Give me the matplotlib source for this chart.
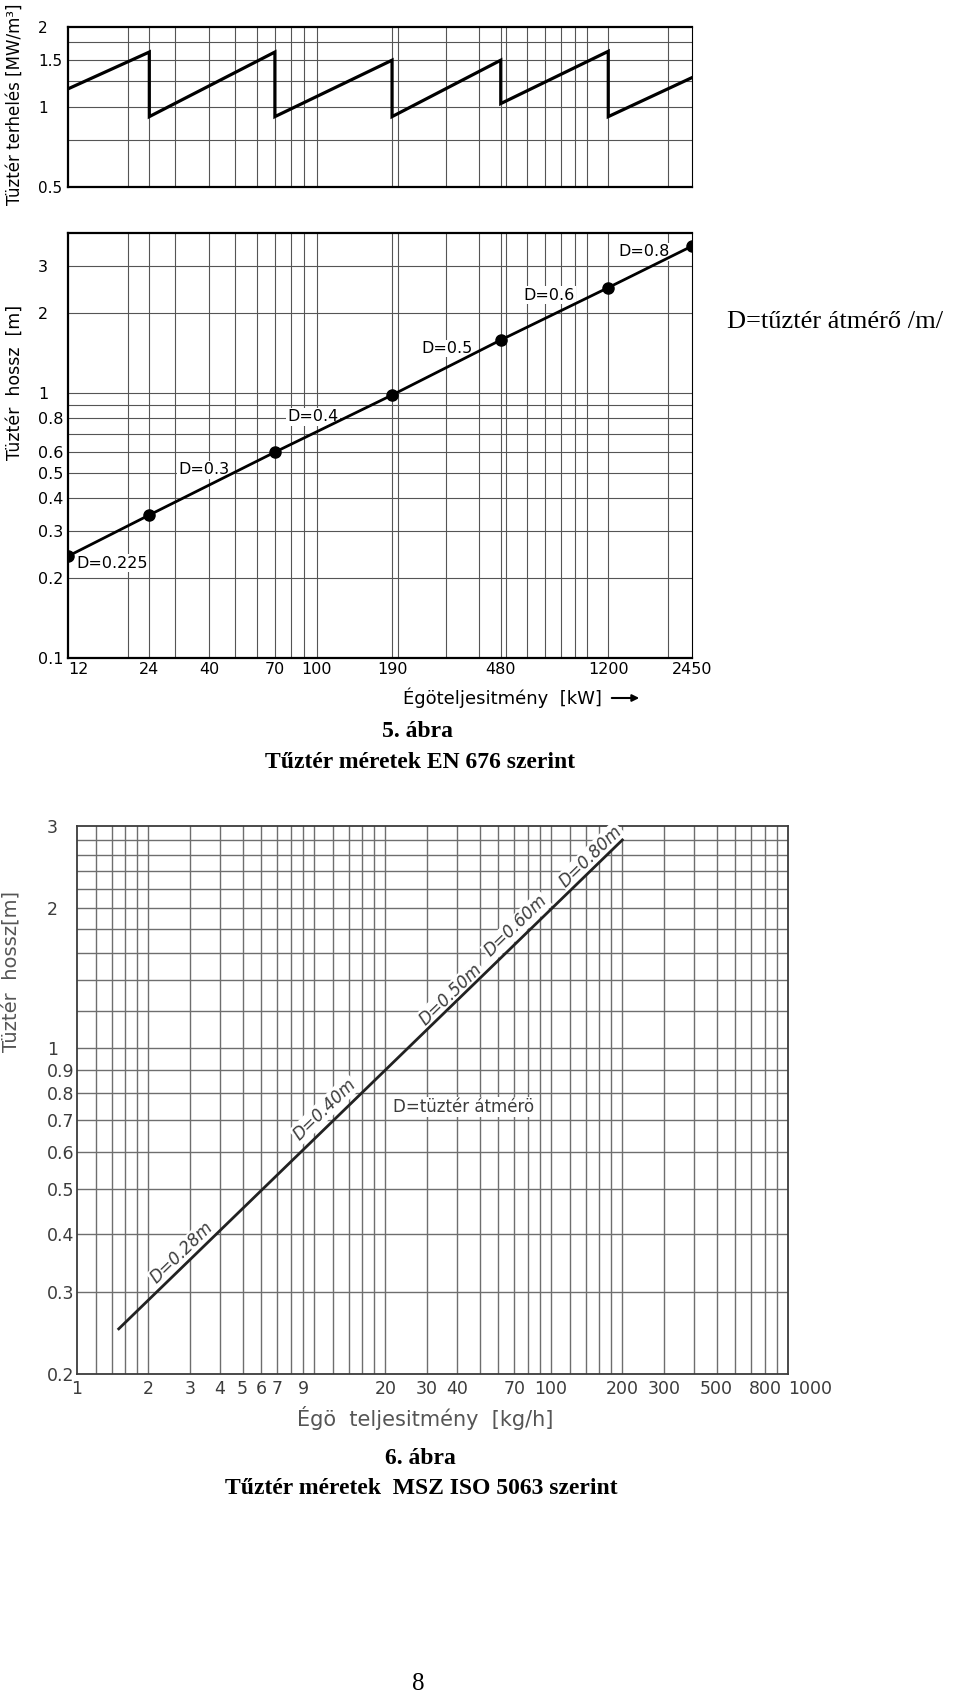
import math
import matplotlib
matplotlib.use('Agg')
import matplotlib.pyplot as plt
from matplotlib.ticker import FixedLocator, FixedFormatter, NullFormatter, NullLocator

# ---------------- data ----------------
# Figure 5 (EN 676)
kw_ticks = [12, 24, 40, 70, 100, 190, 480, 1200, 2450]
kw_tick_labels = ['12', '24', '40', '70', '100', '190', '480', '1200', '2450']
kw_grid = [20, 24, 30, 40, 50, 60, 70, 80, 90, 100, 190, 200, 300, 400, 480,
           500, 600, 700, 800, 900, 1000, 1200, 2000]

load_x = [12, 24, 24, 70, 70, 190, 190, 480, 480, 1200, 1200, 2450]
load_y = [1.17, 1.61, 0.92, 1.61, 0.92, 1.50, 0.92, 1.50, 1.03, 1.62, 0.92, 1.29]
load_yticks = [0.5, 1, 1.5, 2]
load_ytick_labels = ['0.5', '1', '1.5', '2']
load_ygrid = [0.75, 1, 1.25, 1.5, 1.75]

len_x = [12, 24, 70, 190, 480, 1200, 2450]
len_y = [0.242, 0.346, 0.597, 0.98, 1.58, 2.49, 3.57]
len_labels = ['D=0.225', 'D=0.3', 'D=0.4', 'D=0.5', 'D=0.6', 'D=0.8']
len_label_x = [12.85, 30.8, 77.6, 244, 580, 1313]
len_label_y = [0.228, 0.513, 0.813, 1.468, 2.335, 3.40]
len_yticks = [0.1, 0.2, 0.3, 0.4, 0.5, 0.6, 0.8, 1, 2, 3]
len_ytick_labels = ['0.1', '0.2', '0.3', '0.4', '0.5', '0.6', '0.8', '1', '2', '3']
len_ygrid = [0.2, 0.3, 0.4, 0.5, 0.6, 0.7, 0.8, 0.9, 1, 2, 3]

# Figure 6 (MSZ ISO 5063)
kgh_ticks = [1, 2, 3, 4, 5, 6, 7, 9, 20, 30, 40, 70, 100, 200, 300, 500, 800, 1000]
kgh_tick_labels = ['1', '2', '3', '4', '5', '6', '7', '9', '20', '30', '40', '70',
                   '100', '200', '300', '500', '800', '1000']
kgh_grid = [1.2, 1.4, 1.6, 1.8, 2, 3, 4, 5, 6, 7, 8, 9,
            10, 12, 14, 16, 18, 20, 30, 40, 50, 60, 70, 80, 90,
            100, 120, 140, 160, 180, 200, 300, 400, 500, 600, 700, 800, 900]
fuel_x = [1.5, 200]
fuel_y = [0.25, 2.8]
fuel_labels = ['D=0.28m', 'D=0.40m', 'D=0.50m', 'D=0.60m', 'D=0.80m']
fuel_label_x = [2.78, 11.1, 37.8, 71.3, 147]
fuel_label_y = [0.364, 0.74, 1.306, 1.83, 2.58]
fuel_yticks = [0.2, 0.3, 0.4, 0.5, 0.6, 0.7, 0.8, 0.9, 1, 2, 3]
fuel_ytick_labels = ['0.2', '0.3', '0.4', '0.5', '0.6', '0.7', '0.8', '0.9', '1', '2', '3']
fuel_ygrid = [0.3, 0.4, 0.5, 0.6, 0.7, 0.8, 0.9, 1, 1.2, 1.4, 1.6, 1.8,
              2, 2.2, 2.4, 2.6, 2.8]

# ---------------- layout ----------------
W, H = 960, 1695
PT = 100 / 72.0
fig = plt.figure(figsize=(W / 100, H / 100), dpi=100)
fig.patch.set_facecolor('white')

TECH = ['DejaVu Sans']
SANS = ['DejaVu Sans']
SERIF = ['Liberation Serif', 'DejaVu Serif']


def ax_at(l, t, r, b):
    return fig.add_axes([l / W, 1 - b / H, (r - l) / W, (b - t) / H])


def fy(y):
    return 1 - y / H


def style_axes(ax, xgrid, ygrid, gcolor, glw, spine_lw, ypad_px, ysize, tcolor):
    ax.set_xscale('log')
    ax.set_yscale('log')
    ax.xaxis.remove_overlapping_locs = False
    ax.yaxis.remove_overlapping_locs = False
    ax.xaxis.set_minor_locator(FixedLocator(xgrid))
    ax.yaxis.set_minor_locator(FixedLocator(ygrid))
    ax.xaxis.set_minor_formatter(NullFormatter())
    ax.yaxis.set_minor_formatter(NullFormatter())
    ax.grid(True, which='minor', color=gcolor, lw=glw)
    ax.grid(False, which='major')
    ax.set_axisbelow(True)
    ax.tick_params(which='both', length=0)
    ax.tick_params(axis='y', pad=ypad_px / PT, labelsize=ysize, labelcolor=tcolor)
    for s in ax.spines.values():
        s.set_linewidth(spine_lw)
        s.set_color(tcolor)


# ---- Top: Tüztér terhelés ----
ax1 = ax_at(68, 27, 692, 187)
ax1.plot(load_x, load_y, color='black', lw=2.3, zorder=4, solid_joinstyle='miter')
ax1.set_xlim(12, 2450)
ax1.set_ylim(0.5, 2)
style_axes(ax1, kw_grid, load_ygrid, '#555555', 0.8, 1.6, 30, 11, 'black')
ax1.spines['right'].set_linewidth(0.8)
ax1.xaxis.set_major_locator(NullLocator())
ax1.xaxis.set_major_formatter(NullFormatter())
ax1.yaxis.set_major_locator(FixedLocator(load_yticks))
ax1.yaxis.set_major_formatter(FixedFormatter(load_ytick_labels))
for lb in ax1.get_yticklabels():
    lb.set_horizontalalignment('left')

# ---- Middle: Tüztér hossz ----
ax2 = ax_at(68, 233, 692, 658)
ax2.plot(len_x, len_y, color='black', lw=2.0, marker='o', ms=8, zorder=4)
ax2.set_xlim(12, 2450)
ax2.set_ylim(0.1, 4)
style_axes(ax2, kw_grid, len_ygrid, '#555555', 0.8, 1.6, 30, 11.5, 'black')
ax2.spines['right'].set_linewidth(0.8)
ax2.xaxis.set_major_locator(FixedLocator(kw_ticks))
ax2.xaxis.set_major_formatter(FixedFormatter(kw_tick_labels))
ax2.yaxis.set_major_locator(FixedLocator(len_yticks))
ax2.yaxis.set_major_formatter(FixedFormatter(len_ytick_labels))
ax2.tick_params(axis='x', pad=4 / PT, labelsize=11.5)
for lb in ax2.get_yticklabels():
    lb.set_horizontalalignment('left')
xl = ax2.get_xticklabels()
xl[0].set_horizontalalignment('left')
for lab, lx, ly in zip(len_labels, len_label_x, len_label_y):
    ax2.text(lx, ly, lab, fontsize=11.5, family=TECH, ha='left', va='center',
             zorder=3, bbox=dict(facecolor='white', edgecolor='none', pad=1.0))

# ---- Bottom: MSZ ISO 5063 ----
GREY_T = '#3c3c3c'
ax3 = ax_at(77, 826, 788, 1374)
ax3.plot(fuel_x, fuel_y, color='#222222', lw=2.0, zorder=4)
ax3.set_xlim(1, 1000)
ax3.set_ylim(0.2, 3)
style_axes(ax3, kgh_grid, fuel_ygrid, '#6e6e6e', 1.0, 1.3, 30, 12.5, GREY_T)
ax3.xaxis.set_major_locator(FixedLocator(kgh_ticks))
ax3.xaxis.set_major_formatter(FixedFormatter(kgh_tick_labels))
ax3.yaxis.set_major_locator(FixedLocator(fuel_yticks))
ax3.yaxis.set_major_formatter(FixedFormatter(fuel_ytick_labels))
ax3.tick_params(axis='x', pad=6 / PT, labelsize=12.5, labelcolor=GREY_T)
for lb in ax3.get_yticklabels():
    lb.set_horizontalalignment('left')
xl3 = ax3.get_xticklabels()
xl3[-1].set_horizontalalignment('left')

p0 = ax3.transData.transform((fuel_x[0], fuel_y[0]))
p1 = ax3.transData.transform((fuel_x[-1], fuel_y[-1]))
ang = math.degrees(math.atan2(p1[1] - p0[1], p1[0] - p0[0]))
for lab, lx, ly in zip(fuel_labels, fuel_label_x, fuel_label_y):
    ax3.text(lx, ly, lab, fontsize=12, family=TECH, style='italic', rotation=ang,
             rotation_mode='anchor', ha='center', va='center', color=GREY_T, zorder=3,
             bbox=dict(facecolor='white', edgecolor='none', pad=0.8))
ax3.text(42.9, 0.749, 'D=tüztér átmérö', fontsize=12, family=TECH, ha='center',
         va='center', color=GREY_T, zorder=3,
         bbox=dict(facecolor='white', edgecolor='none', pad=0.8))

# ---------------- page texts ----------------
fig.text(15 / W, fy(104), 'Tüztér terhelés [MW/m³]', rotation=90, ha='center',
         va='center', fontsize=12, family=TECH)
fig.text(15 / W, fy(382), 'Tüztér  hossz  [m]', rotation=90, ha='center',
         va='center', fontsize=12.5, family=TECH)
fig.text(403 / W, fy(698), 'Égöteljesitmény  [kW]', ha='left', va='center',
         fontsize=13, family=TECH)
fig.patches.append(matplotlib.patches.FancyArrowPatch(
    (609, H - 698), (642, H - 698), transform=None, arrowstyle='-|>',
    mutation_scale=10, lw=1.5, color='black'))

fig.text(11 / W, fy(971), 'Tüztér  hossz[m]', rotation=90, ha='center',
         va='center', fontsize=14, family=TECH, color='#555555')
fig.text(425 / W, fy(1418), 'Égö  teljesitmény  [kg/h]', ha='center', va='center',
         fontsize=15, family=TECH, color='#555555')

fig.text(418 / W, fy(731), '5. ábra', ha='center', va='center', fontsize=17,
         family=SERIF, weight='bold')
fig.text(420 / W, fy(762), 'Tűztér méretek EN 676 szerint', ha='center', va='center',
         fontsize=17, family=SERIF, weight='bold')
fig.text(420 / W, fy(1459), '6. ábra', ha='center', va='center', fontsize=17,
         family=SERIF, weight='bold')
fig.text(421 / W, fy(1488), 'Tűztér méretek  MSZ ISO 5063 szerint', ha='center',
         va='center', fontsize=17, family=SERIF, weight='bold')
fig.text(727 / W, fy(322), 'D=tűztér átmérő /m/', ha='left', va='center',
         fontsize=19, family=SERIF)
fig.text(418 / W, fy(1684), '8', ha='center', va='center', fontsize=18, family=SERIF)

fig.savefig('out.png', dpi=100, facecolor='white')
